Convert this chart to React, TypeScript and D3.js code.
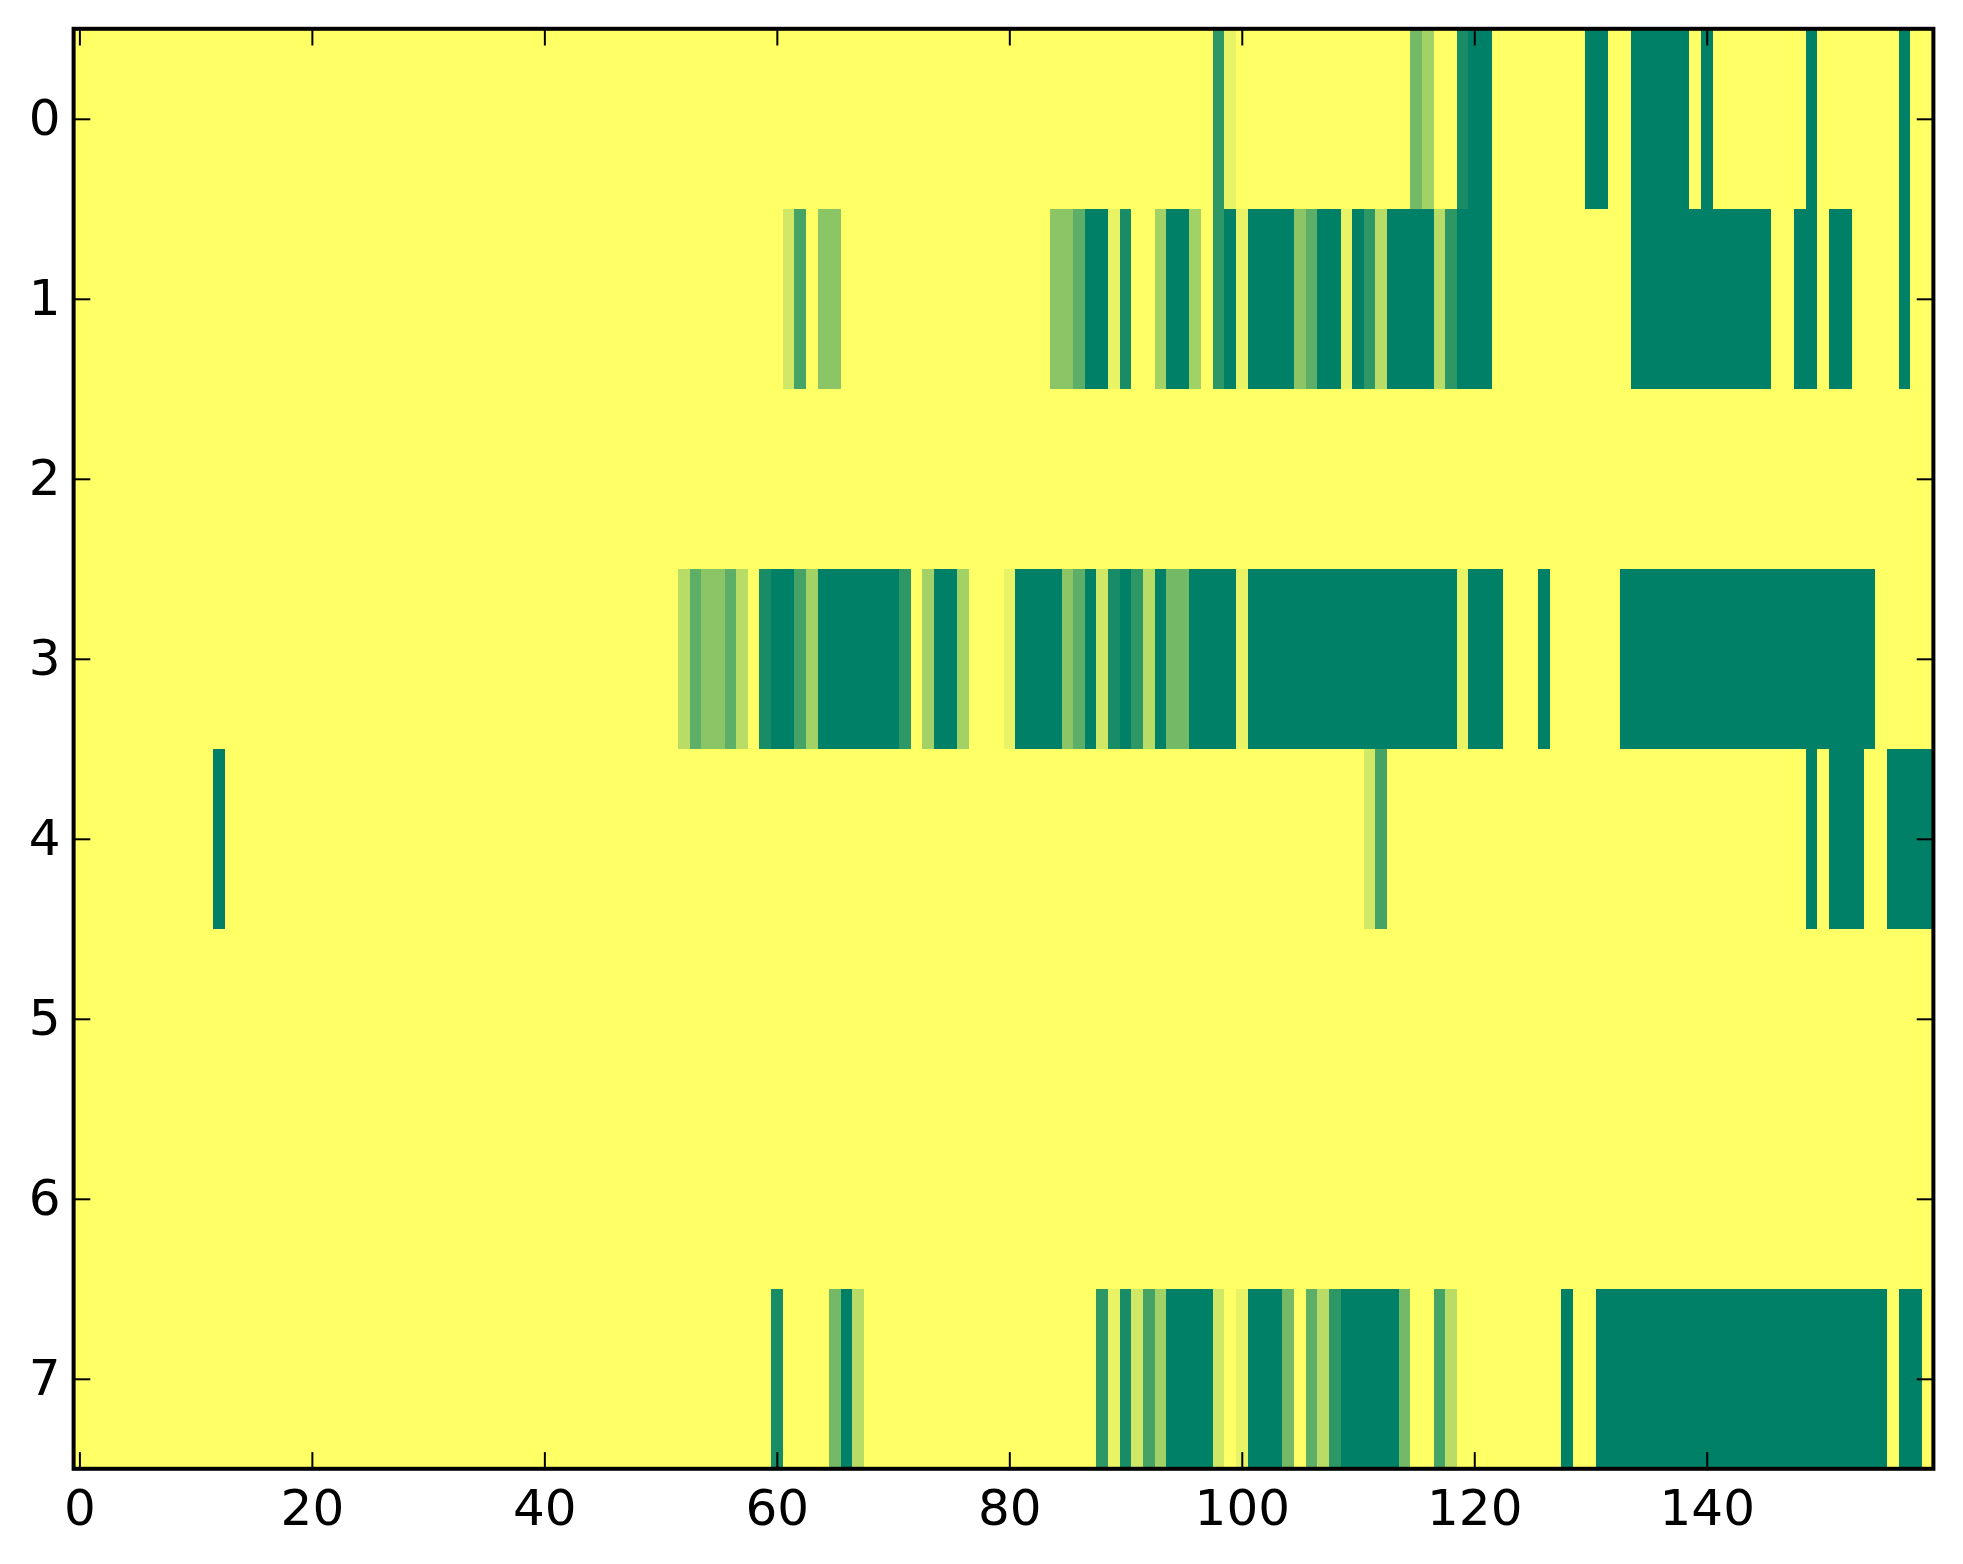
import { useEffect, useRef } from 'react';
import * as d3 from 'd3';

type Run = [number, number, number]; // first column, last column, level

// levels run from 0 (yellow) to 11 (dark green)
const row0: Run[] = [
  [98, 98, 9], [99, 99, 1], [115, 115, 6], [116, 116, 4], [119, 119, 10], [120, 121, 11],
  [130, 131, 11], [134, 138, 11], [140, 140, 11], [149, 149, 11], [157, 157, 11],
];
const row1: Run[] = [
  [61, 61, 2], [62, 62, 8], [64, 65, 5], [84, 85, 5], [86, 86, 7], [87, 88, 11], [89, 89, 1],
  [90, 90, 10], [93, 93, 4], [94, 95, 11], [96, 96, 4], [98, 98, 9], [99, 99, 11], [100, 100, 1],
  [101, 104, 11], [105, 105, 5], [106, 106, 7], [107, 108, 11], [109, 109, 1], [110, 110, 11],
  [111, 111, 9], [112, 112, 3], [113, 116, 11], [117, 117, 3], [118, 118, 9], [119, 121, 11],
  [134, 145, 11], [148, 149, 11], [151, 152, 11], [157, 157, 11],
];
const row2: Run[] = [];
const row3: Run[] = [
  [52, 52, 3], [53, 53, 7], [54, 55, 5], [56, 56, 7], [57, 57, 3], [59, 59, 10], [60, 61, 11],
  [62, 62, 8], [63, 63, 4], [64, 70, 11], [71, 71, 9], [73, 73, 4], [74, 75, 11], [76, 76, 4],
  [80, 80, 1], [81, 84, 11], [85, 85, 5], [86, 86, 7], [87, 87, 11], [88, 88, 2], [89, 89, 10],
  [90, 90, 11], [91, 91, 9], [92, 92, 3], [93, 93, 11], [94, 95, 6], [96, 99, 11], [100, 100, 1],
  [101, 118, 11], [119, 119, 1], [120, 122, 11], [126, 126, 11], [133, 154, 11],
];
const row4: Run[] = [
  [12, 12, 11], [111, 111, 2], [112, 112, 8], [149, 149, 11], [151, 153, 11], [156, 159, 11],
];
const row5: Run[] = [];
const row6: Run[] = [];
const row7: Run[] = [
  [60, 60, 10], [65, 65, 6], [66, 66, 11], [67, 67, 3], [88, 88, 9], [89, 89, 1], [90, 90, 10],
  [91, 91, 2], [92, 92, 8], [93, 93, 4], [94, 97, 11], [98, 98, 2], [100, 100, 1], [101, 103, 11],
  [104, 104, 6], [106, 106, 7], [107, 107, 3], [108, 108, 9], [109, 113, 11], [114, 114, 6],
  [117, 117, 8], [118, 118, 3], [128, 128, 11], [131, 155, 11], [157, 158, 11],
];

const rows = [row0, row1, row2, row3, row4, row5, row6, row7];
const columnCount = 160;
const xTicks = [0, 20, 40, 60, 80, 100, 120, 140];
const yTicks = [0, 1, 2, 3, 4, 5, 6, 7];

export default function App() {
  const svgRef = useRef<SVGSVGElement>(null);

  useEffect(() => {
    if (!svgRef.current) return;

    const width = 1963;
    const height = 1564;
    const left = 73.6;
    const right = 1933.4;
    const top = 28.8;
    const bottom = 1468.8;
    const tickLength = 16.7;

    const svg = d3.select(svgRef.current);
    svg.selectAll('*').remove();
    svg.attr('width', width).attr('height', height);

    const x = d3.scaleLinear().domain([-0.5, columnCount - 0.5]).range([left, right]);
    const y = d3.scaleLinear().domain([-0.5, rows.length - 0.5]).range([top, bottom]);
    const color = d3.scaleLinear<string>().domain([0, 11]).range(['#ffff66', '#008066']);

    // Expand the runs into a full matrix of cells
    const cells = rows.flatMap((runs, r) => {
      const values = new Array(columnCount).fill(0);
      runs.forEach(([from, to, level]) => {
        for (let c = from; c <= to; c++) values[c] = level;
      });
      return values.map((level, c) => ({ r, c, level }));
    });

    svg
      .append('g')
      .attr('shape-rendering', 'crispEdges')
      .selectAll('rect')
      .data(cells)
      .join('rect')
      .attr('x', d => x(d.c - 0.5))
      .attr('y', d => y(d.r - 0.5))
      .attr('width', d => x(d.c + 0.5) - x(d.c - 0.5))
      .attr('height', d => y(d.r + 0.5) - y(d.r - 0.5))
      .attr('fill', d => color(d.level));

    // Ticks point inward on all four sides, labels only on bottom and left
    const styleAxis = (g: d3.Selection<SVGGElement, unknown, null, undefined>) => {
      g.select('.domain').remove();
      g.selectAll('.tick line').attr('stroke', '#000').attr('stroke-width', 2);
      g.selectAll('.tick text')
        .attr('fill', '#000')
        .attr('font-family', '"DejaVu Sans"')
        .attr('font-size', 50);
    };

    svg
      .append('g')
      .attr('transform', `translate(0,${bottom})`)
      .call(d3.axisBottom(x).tickValues(xTicks).tickFormat(d3.format('d')).tickSize(-tickLength).tickPadding(20.5))
      .call(styleAxis);
    svg
      .append('g')
      .attr('transform', `translate(0,${top})`)
      .call(d3.axisTop(x).tickValues(xTicks).tickFormat(() => '').tickSize(-tickLength))
      .call(styleAxis);
    svg
      .append('g')
      .attr('transform', `translate(${left},0)`)
      .call(d3.axisLeft(y).tickValues(yTicks).tickFormat(d3.format('d')).tickSize(-tickLength).tickPadding(13))
      .call(styleAxis)
      .selectAll('.tick text')
      .attr('dy', '0.31em');
    svg
      .append('g')
      .attr('transform', `translate(${right},0)`)
      .call(d3.axisRight(y).tickValues(yTicks).tickFormat(() => '').tickSize(-tickLength))
      .call(styleAxis);

    // Frame
    svg
      .append('rect')
      .attr('x', left)
      .attr('y', top)
      .attr('width', right - left)
      .attr('height', bottom - top)
      .attr('fill', 'none')
      .attr('stroke', '#000')
      .attr('stroke-width', 4);
  }, []);

  return <svg ref={svgRef} style={{ position: 'absolute', left: 0, top: 0, display: 'block' }}></svg>;
}
